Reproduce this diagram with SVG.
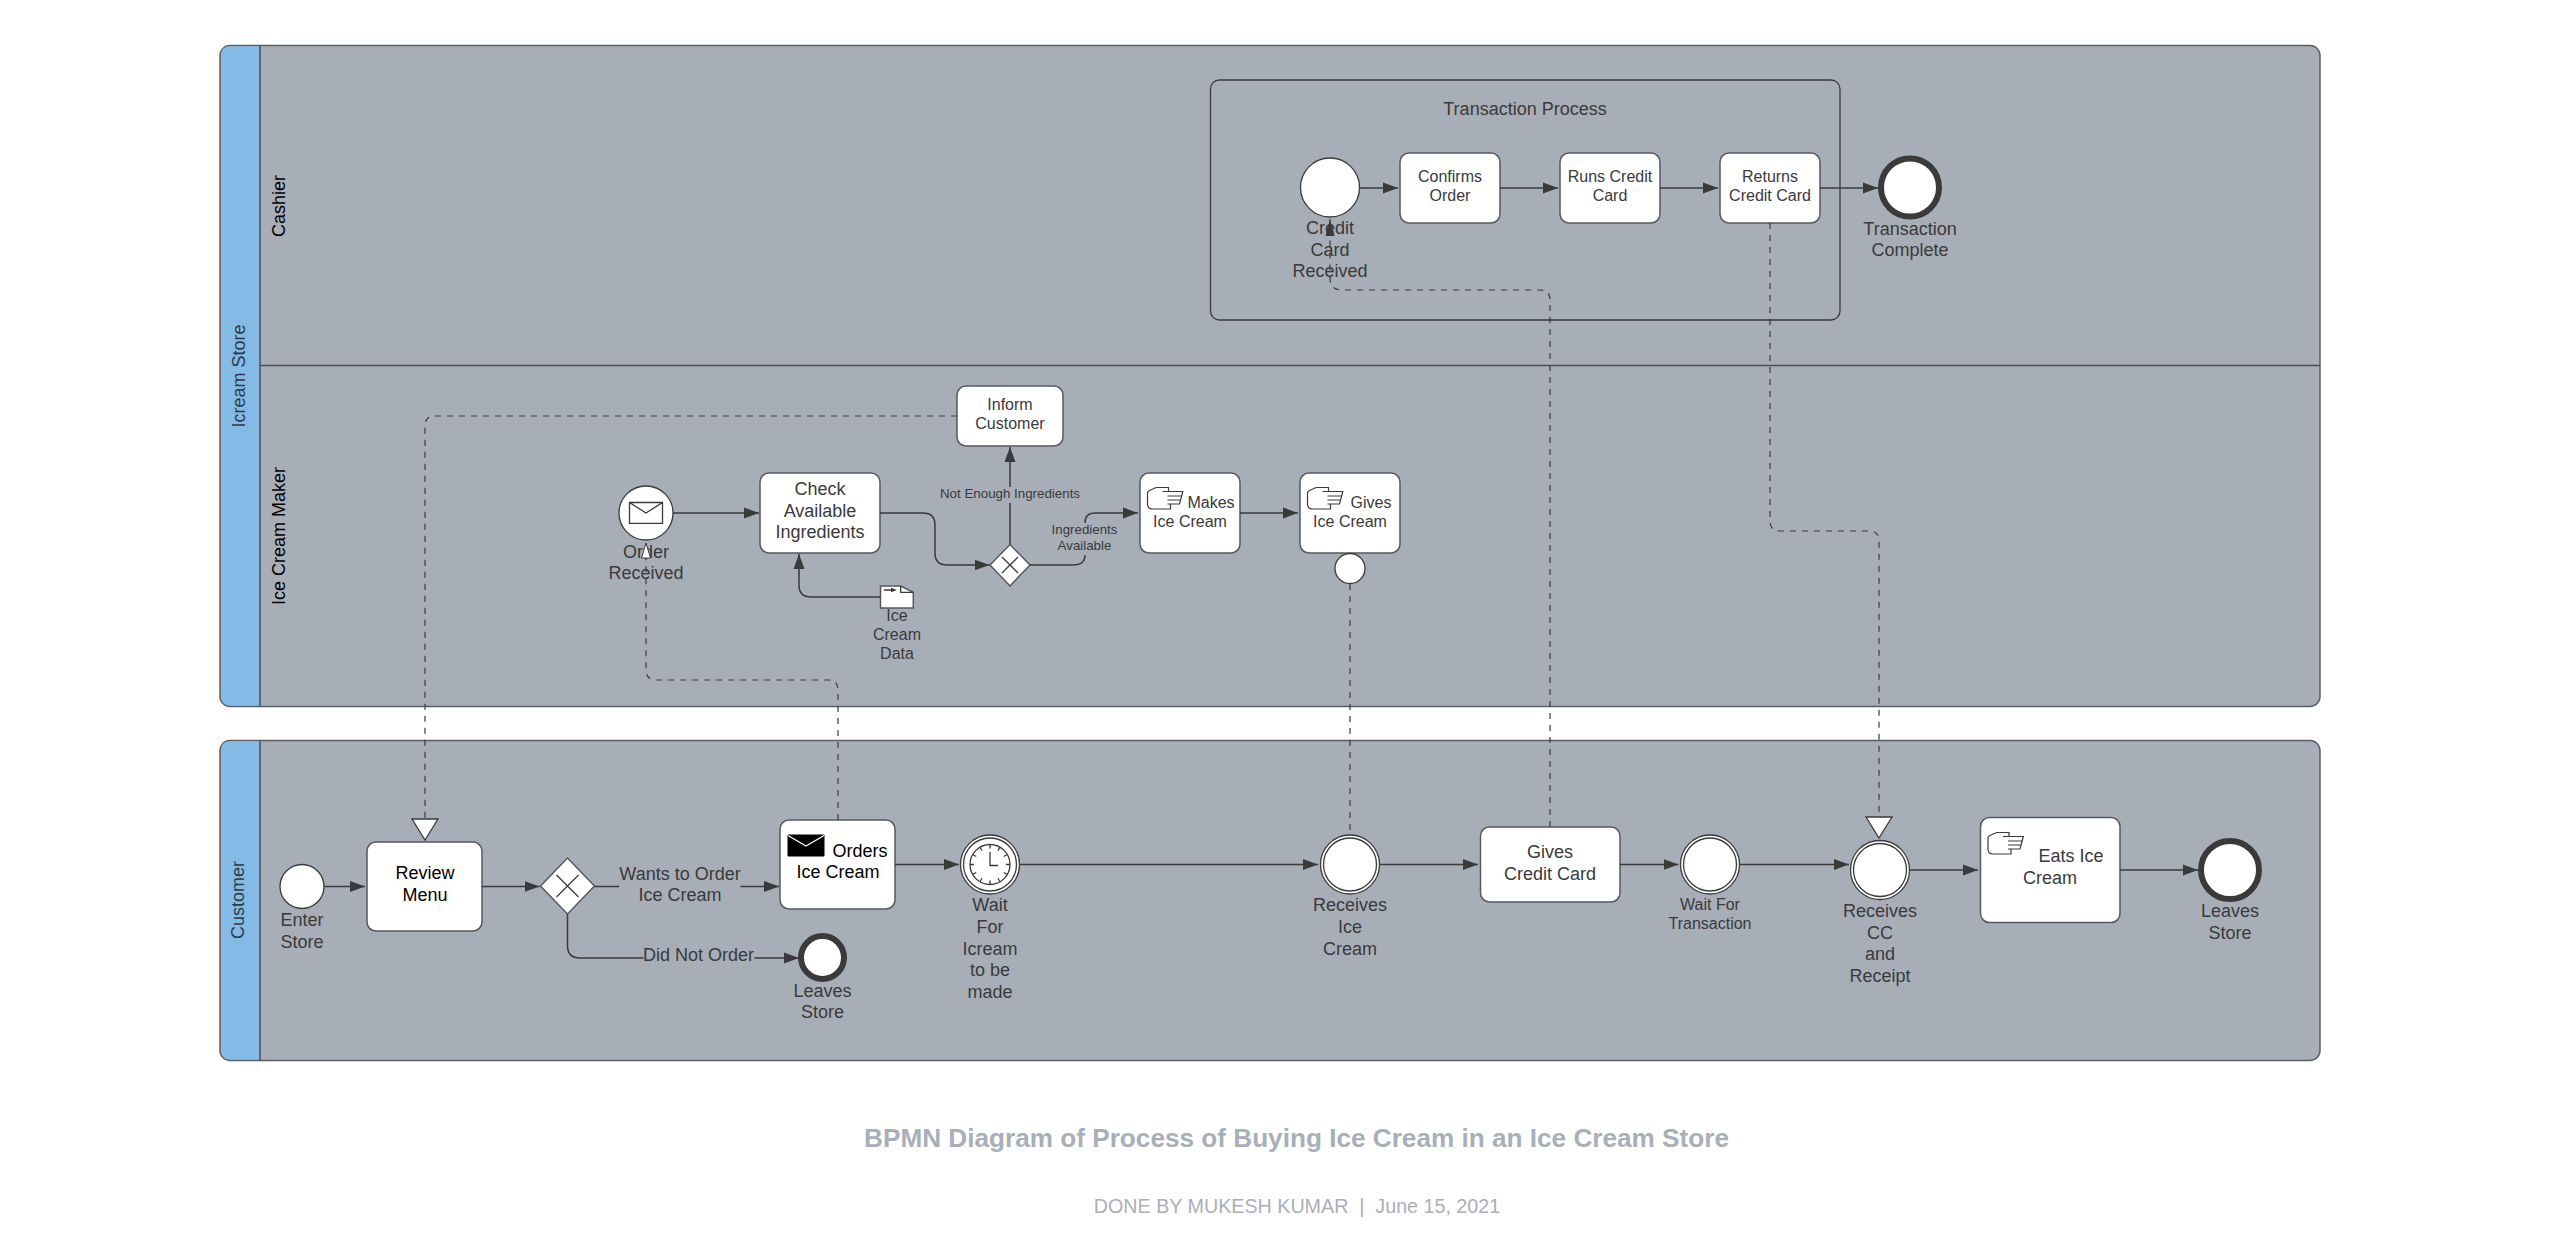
<svg xmlns="http://www.w3.org/2000/svg" width="2558" height="1236" viewBox="0 0 2558 1236">
<style>
text{font-family:"Liberation Sans",Arial,sans-serif;fill:#3a3a3a;text-anchor:middle}
.f18{font-size:18px}.f16{font-size:16px}.f13{font-size:13.33px}
.k{fill:#000}
.lane{fill:#2f3a46}
.pool{fill:#a8aeb8;stroke:#5a5e66;stroke-width:1.5}
.head{fill:#84bae6;stroke:none}
.sep{stroke:#4a4e56;stroke-width:1.5;fill:none}
.task{fill:#fff;stroke:#55585e;stroke-width:1.5}
.ev{fill:#fff;stroke:#3a3a3a;stroke-width:1.3}
.end{fill:#fff;stroke:#3a3a3a;stroke-width:6}
.thin{fill:none;stroke:#3a3a3a;stroke-width:1.3}
.flow{fill:none;stroke:#3a3a3a;stroke-width:1.5}
.msg{fill:none;stroke:#3a3a3a;stroke-width:1.2;stroke-dasharray:6 6}
.icon{fill:#fff;stroke:#3a3a3a;stroke-width:1.2}
</style>
<defs>
<marker id="arr" markerUnits="userSpaceOnUse" markerWidth="16" markerHeight="12" refX="15" refY="6" orient="auto"><path d="M0 .5L15 6L0 11.500Z" fill="#3a3a3a"/></marker>
<marker id="arn" markerUnits="userSpaceOnUse" markerWidth="18" markerHeight="10" refX="17" refY="5" orient="auto"><path d="M0 .5L17 5L0 9.500Z" fill="#3a3a3a"/></marker>
<marker id="open" markerUnits="userSpaceOnUse" markerWidth="24" markerHeight="30" refX="22" refY="14" orient="auto"><path d="M1 1L22 14L1 27Z" fill="#fff" stroke="#3a3a3a" stroke-width="1.3"/></marker>
<marker id="opens" markerUnits="userSpaceOnUse" markerWidth="17" markerHeight="12" refX="16" refY="6" orient="auto"><path d="M1 1.500L16 6L1 10.500Z" fill="#fff" stroke="#3a3a3a" stroke-width="1"/></marker>
<g id="hand"><path class="icon" d="M8.700 .5H21V4.500H35.300L32 17H23V22H5Q0 22 0 17V6Q0 4 3 3ZM21 4.500H15M20 9H34M20 13H33M20 17H32"/></g>
<g id="mail"><path fill="#000" stroke="#000" d="M0 0H36V21H0Z"/><path fill="none" stroke="#fff" stroke-width="1.3" d="M0 .5L18 11L36 .5"/></g>
</defs>
<g id="pool-icream-store">
<rect class="pool" x="220" y="45.500" width="2100" height="661" rx="10"/>
<path class="head" d="M260 46.300H230Q221 46.300 221 55.500V696Q221 705.500 230 705.500H260Z"/>
<path class="sep" d="M260 45.500V706M260 365.500H2320"/>
<text class="f18 lane" transform="translate(245,376) rotate(-90)">Icream Store</text>
<text class="f18 k" transform="translate(285,206) rotate(-90)">Cashier</text>
<text class="f18 k" transform="translate(285,536) rotate(-90)">Ice Cream Maker</text>
</g>
<g id="pool-customer">
<rect class="pool" x="220" y="740.500" width="2100" height="320" rx="10"/>
<path class="head" d="M260 741.300H230Q221 741.300 221 750.500V1050Q221 1059.500 230 1059.500H260Z"/>
<path class="sep" d="M260 740.500V1060"/>
<text class="f18 lane" transform="translate(244,900) rotate(-90)">Customer</text>
</g>
<g id="subprocess"><rect class="thin" x="1210.500" y="80" width="629.500" height="240" rx="9"/><text class="f18" x="1525" y="114.500">Transaction Process</text></g>
<g id="credit-card-received"><circle class="ev" cx="1330" cy="187.500" r="29.500"/><text class="f18" x="1330"><tspan x="1330" y="234">Credit</tspan><tspan x="1330" y="255.500">Card</tspan><tspan x="1330" y="277">Received</tspan></text></g>
<g id="confirms-order"><rect class="task" x="1400" y="153" width="100" height="70" rx="9"/><text class="f16" x="1450"><tspan x="1450" y="181.700">Confirms</tspan><tspan x="1450" y="200.500">Order</tspan></text></g>
<g id="runs-credit-card"><rect class="task" x="1560" y="153" width="100" height="70" rx="9"/><text class="f16" x="1610"><tspan x="1610" y="181.700">Runs Credit</tspan><tspan x="1610" y="200.500">Card</tspan></text></g>
<g id="returns-credit-card"><rect class="task" x="1720" y="153" width="100" height="70" rx="9"/><text class="f16" x="1770"><tspan x="1770" y="181.700">Returns</tspan><tspan x="1770" y="200.500">Credit Card</tspan></text></g>
<g id="transaction-complete"><circle class="end" cx="1910" cy="187.500" r="29"/><text class="f18" x="1910"><tspan x="1910" y="234.500">Transaction</tspan><tspan x="1910" y="255.500">Complete</tspan></text></g>
<g id="inform-customer"><rect class="task" x="957" y="386" width="106" height="60" rx="9"/><text class="f16" x="1010"><tspan x="1010" y="410">Inform</tspan><tspan x="1010" y="428.500">Customer</tspan></text></g>
<g id="order-received"><circle class="ev" cx="646" cy="513" r="27"/><path class="thin" stroke-width="1.500" d="M629.500 502.500H662.500V523.300H629.500ZM629.500 502.500L646 513L662.500 502.500"/><text class="f18" x="646"><tspan x="646" y="558">Order</tspan><tspan x="646" y="579">Received</tspan></text></g>
<g id="check-ingredients"><rect class="task" x="760" y="473" width="120" height="80" rx="9"/><text class="f18" x="820"><tspan x="820" y="495">Check</tspan><tspan x="820" y="516.500">Available</tspan><tspan x="820" y="538">Ingredients</tspan></text></g>
<g id="ice-cream-data"><path class="task" d="M880.500 586H900.700L913.300 592.300V608H880.500Z"/><path class="thin" d="M900.700 586V592.300H913.300"/><path d="M884 590H892" stroke="#3a3a3a" stroke-width="1.5"/><path d="M891 587.800L897 590L891 592.200Z" fill="#3a3a3a"/><text class="f16" x="897"><tspan x="897" y="621">Ice</tspan><tspan x="897" y="639.500">Cream</tspan><tspan x="897" y="658.500">Data</tspan></text></g>
<g id="gateway-ingredients"><path class="task" d="M1010 544.500L1030 565L1010 586L990 565Z"/><path class="thin" d="M1002 557L1018 573M1018 557L1002 573"/></g>
<text class="f13" x="1010" y="497.500">Not Enough Ingredients</text>
<text class="f13" x="1084.500" y="533.500"><tspan x="1084.500" y="533.500">Ingredients</tspan><tspan x="1084.500" y="550">Available</tspan></text>
<g id="makes-ice-cream"><rect class="task" x="1140" y="473" width="100" height="80" rx="9"/><use href="#hand" x="1147.500" y="487"/><text class="f16" x="1211" y="508">Makes</text><text class="f16" x="1190" y="527">Ice Cream</text></g>
<g id="gives-ice-cream"><rect class="task" x="1300" y="473" width="100" height="80" rx="9"/><use href="#hand" x="1307.500" y="487"/><text class="f16" x="1371" y="508">Gives</text><text class="f16" x="1350" y="527">Ice Cream</text></g>
<g id="ice-cream-sent"><circle class="ev" cx="1350" cy="568.500" r="15"/></g>
<g id="enter-store"><circle class="ev" cx="302" cy="886.500" r="22"/><text class="f18" x="302"><tspan x="302" y="926">Enter</tspan><tspan x="302" y="947.500">Store</tspan></text></g>
<g id="review-menu"><rect class="task" x="367" y="842" width="115" height="89" rx="9"/><text class="f18 k" x="425"><tspan x="425" y="879">Review</tspan><tspan x="425" y="900.500">Menu</tspan></text></g>
<g id="gateway-order"><path class="task" d="M567.500 858L594.500 886L567.500 914L540.500 886Z"/><path class="thin" d="M556.500 875L578.500 897M578.500 875L556.500 897"/></g>
<text class="f18" x="680"><tspan x="680" y="880">Wants to Order</tspan><tspan x="680" y="901">Ice Cream</tspan></text>
<text class="f18" x="698.500" y="961">Did Not Order</text>
<g id="orders-ice-cream"><rect class="task" x="780" y="820" width="115" height="89" rx="9"/><use href="#mail" x="788" y="835"/><text class="f18 k" x="860" y="857">Orders</text><text class="f18 k" x="838" y="878">Ice Cream</text></g>
<g id="leaves-store-early"><circle class="end" cx="822.500" cy="957.500" r="21.500"/><text class="f18" x="822.500"><tspan x="822.500" y="997">Leaves</tspan><tspan x="822.500" y="1018">Store</tspan></text></g>
<g id="wait-icream"><circle class="ev" cx="990" cy="864.500" r="29.500"/><circle class="ev" cx="990" cy="864.500" r="26.500"/><circle class="thin" cx="990" cy="864.500" r="20"/><path class="thin" stroke-width="1" d="M990 844.500v4M1000 847.200l-2 3.500M1007.300 854.500l-3.500 2M1010 864.500h-4M1007.300 874.500l-3.500 -2M1000 881.800l-2 -3.500M990 884.500v-4M980 881.800l2 -3.500M972.700 874.500l3.500 -2M970 864.500h4M972.700 854.500l3.500 2M980 847.200l2 3.500M990 852V865.500H998"/><text class="f18" x="990"><tspan x="990" y="911">Wait</tspan><tspan x="990" y="933">For</tspan><tspan x="990" y="954.500">Icream</tspan><tspan x="990" y="976">to be</tspan><tspan x="990" y="997.500">made</tspan></text></g>
<g id="receives-ice-cream"><circle class="ev" cx="1350" cy="864.500" r="29.500"/><circle class="ev" cx="1350" cy="864.500" r="26.500"/><text class="f18" x="1350"><tspan x="1350" y="911">Receives</tspan><tspan x="1350" y="933">Ice</tspan><tspan x="1350" y="954.500">Cream</tspan></text></g>
<g id="gives-credit-card"><rect class="task" x="1480.500" y="827" width="139.500" height="75" rx="9"/><text class="f18" x="1550"><tspan x="1550" y="858">Gives</tspan><tspan x="1550" y="879.500">Credit Card</tspan></text></g>
<g id="wait-transaction"><circle class="ev" cx="1710" cy="864.500" r="29.500"/><circle class="ev" cx="1710" cy="864.500" r="26.500"/><text class="f16" x="1710"><tspan x="1710" y="909.500">Wait For</tspan><tspan x="1710" y="928.500">Transaction</tspan></text></g>
<g id="receives-cc"><circle class="ev" cx="1880" cy="870" r="29.500"/><circle class="ev" cx="1880" cy="870" r="26.500"/><text class="f18" x="1880"><tspan x="1880" y="917">Receives</tspan><tspan x="1880" y="938.500">CC</tspan><tspan x="1880" y="960">and</tspan><tspan x="1880" y="981.500">Receipt</tspan></text></g>
<g id="eats-ice-cream"><rect class="task" x="1980.500" y="817.500" width="139.500" height="105" rx="9"/><use href="#hand" x="1988" y="832"/><text class="f18" x="2071" y="862">Eats Ice</text><text class="f18" x="2050" y="883.500">Cream</text></g>
<g id="leaves-store"><circle class="end" cx="2230" cy="870" r="29"/><text class="f18" x="2230"><tspan x="2230" y="917">Leaves</tspan><tspan x="2230" y="938.500">Store</tspan></text></g>
<g id="connectors">
<path class="flow" marker-end="url(#arr)" d="M1359.500 188H1398"/>
<path class="flow" marker-end="url(#arr)" d="M1500 188H1558"/>
<path class="flow" marker-end="url(#arr)" d="M1660 188H1718"/>
<path class="flow" marker-end="url(#arr)" d="M1820 188H1878"/>
<path class="flow" marker-end="url(#arr)" d="M673 513H759"/>
<path class="flow" marker-end="url(#arr)" d="M880 513H923Q935 513 935 525V553Q935 565 947 565H989.500"/>
<path class="flow" marker-end="url(#arr)" d="M880.500 597H811Q799 597 799 585V554"/>
<path class="flow" d="M1010 544.500V503"/><path class="flow" marker-end="url(#arr)" d="M1010 487V447"/>
<path class="flow" d="M1030 565H1073Q1085 565 1085 555"/><path class="flow" marker-end="url(#arr)" d="M1085 523Q1085 513 1095 513H1138"/>
<path class="flow" marker-end="url(#arr)" d="M1240 513H1298"/>
<path class="flow" marker-end="url(#arr)" d="M324 886.500H365"/>
<path class="flow" marker-end="url(#arr)" d="M482 886.500H539.500"/>
<path class="flow" d="M594.500 886.500H619"/><path class="flow" marker-end="url(#arr)" d="M740.500 886.500H779"/>
<path class="flow" d="M567.500 914V945.500Q567.500 958 580 958H643.500"/><path class="flow" marker-end="url(#arr)" d="M754.500 958H799"/>
<path class="flow" marker-end="url(#arr)" d="M895 864.500H959"/>
<path class="flow" marker-end="url(#arr)" d="M1020 864.500H1318"/>
<path class="flow" marker-end="url(#arr)" d="M1380 864.500H1478"/>
<path class="flow" marker-end="url(#arr)" d="M1620 864.500H1678.500"/>
<path class="flow" marker-end="url(#arr)" d="M1740 864.500H1849"/>
<path class="flow" marker-end="url(#arr)" d="M1910 870H1978"/>
<path class="flow" marker-end="url(#arr)" d="M2120 870H2198"/>
<path class="msg" marker-end="url(#arn)" d="M1550 827V300Q1550 290 1540 290H1342Q1330 290 1330 278V219"/>
<path class="msg" marker-end="url(#open)" d="M1770 223V521Q1770 531 1780 531H1869Q1879 531 1879 541V838"/>
<path class="msg" marker-end="url(#open)" d="M957 416H435Q425 416 425 426V840"/>
<path class="msg" marker-end="url(#opens)" d="M838 820V690Q838 680 828 680H656Q646 680 646 670V543"/>
<path class="msg" d="M1350 584V834"/>
</g>
<text x="1296.500" y="1147" font-weight="700" font-size="26.170px" style="fill:#a9afb9">BPMN Diagram of Process of Buying Ice Cream in an Ice Cream Store</text>
<text x="1297" y="1212.500" font-size="19.700px" style="fill:#a9afb9" xml:space="preserve">DONE BY MUKESH KUMAR  |  June 15, 2021</text>
</svg>
